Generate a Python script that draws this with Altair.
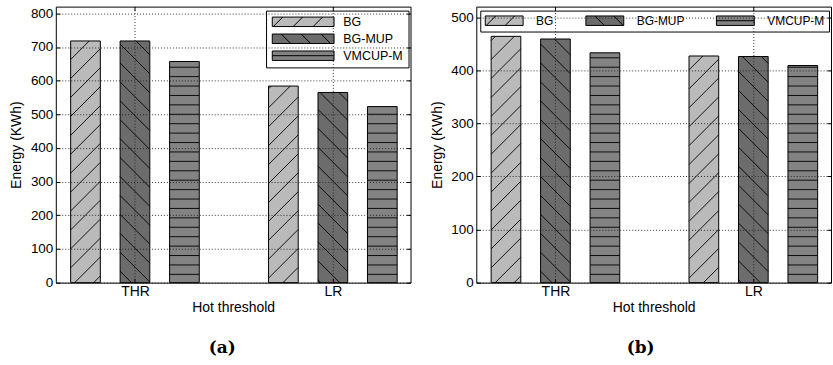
import altair as alt
import numpy as np
import pandas as pd

# ---- data -------------------------------------------------------------
groups = ["THR", "LR"]
series = ["BG", "BG-MUP", "VMCUP-M"]

# panel (a)
a_bg = [718, 584]
a_bg_mup = [718, 565]
a_vmcup_m = [657, 523]

# panel (b)
b_bg = [464, 427]
b_bg_mup = [459, 426]
b_vmcup_m = [433, 409]

# ---- styling ------------------------------------------------------------
FILLS = ["#bababa", "#6c6c6c", "#838383"]
HATCH = {"BG": "/", "BG-MUP": "\\", "VMCUP-M": "-"}
FONT = "Liberation Sans"

PLOT_W, PLOT_H = 356, 277
X_MIN, X_MAX = -0.3, 6.87
BAR_W = 0.6
PX_X = PLOT_W / (X_MAX - X_MIN)
DIAG_STEP = 19.0      # px between diagonal hatch lines (vertical)
HORIZ_STEP = 9.45     # px between horizontal hatch lines
HORIZ_START = 8.3

GRID = dict(grid=True, gridDash=[1, 2], gridColor="#222222", gridWidth=1, gridOpacity=0.9)
TICKS = dict(domain=False, tickSize=4, offset=-4, tickColor="black", tickWidth=1)


def bar_table(values):
    rows = []
    for si, s in enumerate(series):
        for gi, g in enumerate(groups):
            x0 = gi * 4 + si
            rows.append(dict(series=s, group=g, x0=x0, x1=x0 + BAR_W,
                             base=0, energy=values[si][gi]))
    return pd.DataFrame(rows)


def hatch_table(bars, px_y):
    """Clip hatch lines (fixed pixel lattice) to every bar rectangle."""
    rows = []
    for r in bars.itertuples():
        kind = HATCH[r.series]
        W = (r.x1 - r.x0) * PX_X
        H = r.energy * px_y
        X0 = (r.x0 - X_MIN) * PX_X
        segs = []
        if kind == "-":
            y = HORIZ_START
            while y < H - 1:
                segs.append((0.0, y, W, y))
                y += HORIZ_STEP
        else:
            sgn = 1 if kind == "/" else -1
            for k in range(-300, 300):
                d = sgn * X0 + k * DIAG_STEP
                if sgn == 1:
                    lo, hi = max(0.0, -d), min(W, H - d)
                else:
                    lo, hi = max(0.0, d - H), min(W, d)
                if hi - lo > 0.5:
                    segs.append((lo, sgn * lo + d, hi, sgn * hi + d))
        for u0, y0, u1, y1 in segs:
            rows.append(dict(hx0=r.x0 + u0 / PX_X, hy0=y0 / px_y,
                             hx1=r.x0 + u1 / PX_X, hy1=y1 / px_y))
    return pd.DataFrame(rows)


def legend_shape(kind, width, offsets, height=9.5, r=5.0):
    """Symbol path: a filled rectangle with its hatch strokes."""
    def p(x, y):
        return f"{(x - r) / r:.3f},{y / r:.3f}"
    hh = height / 2
    d = f"M{p(0, -hh)}L{p(width, -hh)}L{p(width, hh)}L{p(0, hh)}Z"
    for o in offsets:
        end = min(o + height, width)
        if kind == "/":
            d += f"M{p(o, hh)}L{p(end, hh - (end - o))}"
        elif kind == "\\":
            d += f"M{p(o, -hh)}L{p(end, -hh + (end - o))}"
        else:
            d += f"M{p(0, o)}L{p(width, o)}"
    return d


def shape_expr(width, diag_offsets):
    paths = [legend_shape("/", width, diag_offsets),
             legend_shape("\\", width, [o + 8 for o in diag_offsets]),
             legend_shape("-", width, [0])]
    return (f"datum.value === '{series[0]}' ? '{paths[0]}' : "
            f"datum.value === '{series[1]}' ? '{paths[1]}' : '{paths[2]}'")


def panel(values, y_max, y_ticks, legend, tag, tag_dx):
    px_y = PLOT_H / y_max
    bars = bar_table(values)
    hatch = hatch_table(bars, px_y)
    centers = [gi * 4 + 1 + BAR_W / 2 for gi in range(len(groups))]
    label_expr = f"datum.value < 3 ? '{groups[0]}' : '{groups[1]}'"

    x_scale = alt.Scale(domain=[X_MIN, X_MAX], nice=False, zero=False)
    y_scale = alt.Scale(domain=[0, y_max], nice=False)

    x_bottom = alt.Axis(orient="bottom", values=centers, labelExpr=label_expr,
                        title="Hot threshold", labelPadding=2, titlePadding=2,
                        labelFont=FONT, labelFontSize=14, labelColor="black",
                        titleFont=FONT, titleFontSize=14, titleFontWeight="normal",
                        titleColor="black", zindex=1, **GRID, **TICKS)
    y_left = alt.Axis(orient="left", values=y_ticks, format="d", title="Energy (KWh)",
                      labelPadding=3, titlePadding=6.5, labelFont=FONT, labelFontSize=13.5,
                      labelColor="black", titleFont=FONT, titleFontSize=14,
                      titleFontWeight="normal", titleColor="black", zindex=1,
                      **GRID, **TICKS)
    x_top = alt.Axis(orient="top", values=centers, labels=False, title=None,
                     grid=False, zindex=1, **TICKS)
    y_right = alt.Axis(orient="right", values=y_ticks, labels=False, title=None,
                       grid=False, zindex=1, **TICKS)

    bar_layer = alt.Chart(bars).mark_bar(stroke="black", strokeWidth=1).encode(
        x=alt.X("x0:Q", scale=x_scale, axis=x_bottom),
        x2="x1:Q",
        y=alt.Y("energy:Q", scale=y_scale, axis=y_left),
        y2="base:Q",
        fill=alt.Fill("series:N", scale=alt.Scale(domain=series, range=FILLS),
                      legend=legend),
    )
    hatch_layer = alt.Chart(hatch).mark_rule(color="black", strokeWidth=0.9).encode(
        x=alt.X("hx0:Q", scale=x_scale, axis=x_top),
        x2="hx1:Q",
        y=alt.Y("hy0:Q", scale=y_scale, axis=y_right),
        y2="hy1:Q",
    )
    return alt.layer(bar_layer, hatch_layer).properties(
        width=PLOT_W, height=PLOT_H,
        title=alt.TitleParams(tag, orient="bottom", anchor="middle", font="DejaVu Serif",
                              fontSize=17, fontWeight="bold", color="black",
                              offset=26, dx=tag_dx),
    )


common_legend = dict(title=None, orient="none", strokeColor="black", fillColor="white",
                     cornerRadius=0, symbolSize=100, symbolStrokeWidth=1,
                     symbolStrokeColor="black", symbolOpacity=1, labelFont=FONT,
                     labelColor="black")

legend_a = alt.Legend(direction="vertical", legendX=211, legendY=4, padding=5,
                      labelOffset=60, rowPadding=3, labelFontSize=12.5,
                      symbolType=alt.ExprRef(expr=shape_expr(62, [1, 21, 41])),
                      **common_legend)
legend_b = alt.Legend(direction="horizontal", legendX=4, legendY=4, padding=4,
                      labelOffset=40, columnPadding=30, labelFontSize=12,
                      symbolType=alt.ExprRef(expr=shape_expr(38, [1, 20])),
                      **common_legend)

left = panel([a_bg, a_bg_mup, a_vmcup_m], 820, list(range(0, 801, 100)), legend_a, "(a)", -11)
right = panel([b_bg, b_bg_mup, b_vmcup_m], 520, list(range(0, 501, 100)), legend_b, "(b)", -13)

chart = alt.hconcat(left, right, spacing=66, bounds="flush").resolve_scale(
    fill="independent"
).resolve_legend(
    fill="independent"
).properties(
    padding={"left": 9, "top": 5, "right": 1, "bottom": 2},
).configure_view(stroke="black", strokeWidth=1)

chart.save("out.html", embed_options={"renderer": "svg", "actions": False})
